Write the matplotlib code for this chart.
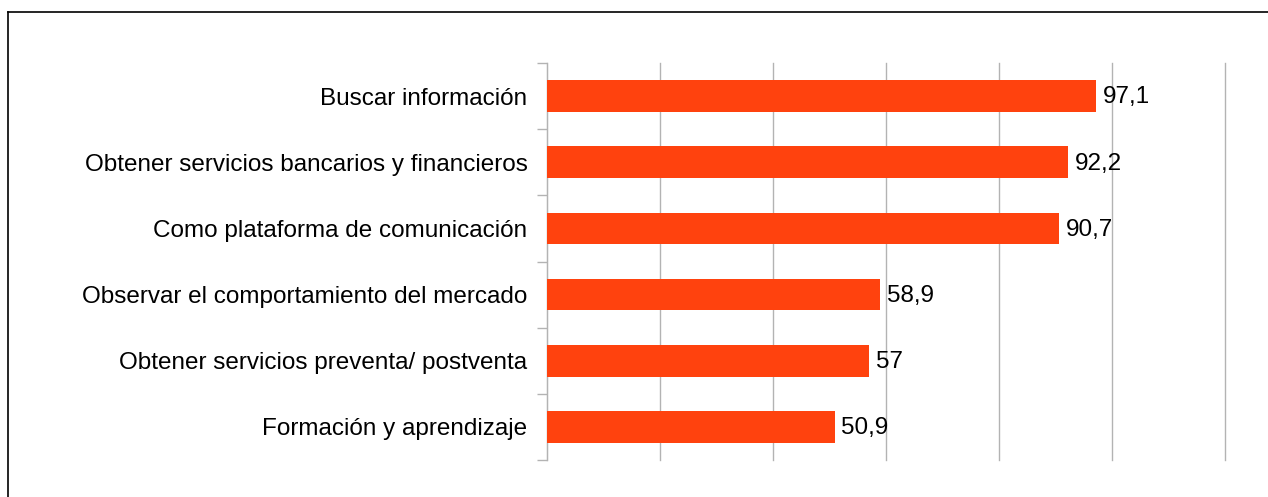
import matplotlib.pyplot as plt
import numpy as np
from matplotlib.lines import Line2D

# data
categories = ["Buscar información",
              "Obtener servicios bancarios y financieros",
              "Como plataforma de comunicación",
              "Observar el comportamiento del mercado",
              "Obtener servicios preventa/ postventa",
              "Formación y aprendizaje"]
values = [97.1, 92.2, 90.7, 58.9, 57, 50.9]

plt.rcParams['font.family'] = ['Liberation Sans', 'DejaVu Sans']

fig = plt.figure(figsize=(12.68, 4.97), dpi=100)
ax = fig.add_axes([547/1268, 1-460/497, (1225-547)/1268, (460-63)/497])

y = np.arange(len(categories))
ax.barh(y, values, height=0.48, color='#ff420e', zorder=3)

# value labels
for yi, v in zip(y, values):
    txt = ('%g' % v).replace('.', ',')
    ax.text(v + 1.2, yi + 0.02, txt, va='center', ha='left', fontsize=17.5, color='black')

ax.set_xlim(0, 120)
ax.set_ylim(len(categories) - 0.5, -0.5)
ax.set_xticks(np.arange(0, 121, 20))
ax.tick_params(axis='x', length=0, labelbottom=False)
ax.grid(axis='x', color='#b3b3b3', linewidth=1, zorder=0)
for gl in ax.xaxis.get_gridlines():
    gl.set_clip_on(False)

ax.set_yticks(y)
ax.set_yticklabels(categories, fontsize=17.5)
ax.set_yticks(np.arange(-0.5, len(categories)), minor=True)
ax.tick_params(axis='y', which='major', length=0, pad=14)
ax.tick_params(axis='y', which='minor', length=7, color='#b3b3b3', width=1)

for s in ['top', 'right', 'bottom']:
    ax.spines[s].set_visible(False)
ax.spines['left'].set_color('#b3b3b3')

# outer frame
x0 = 8/1268
y0 = 1-12/497
fig.add_artist(Line2D([x0, x0], [0, y0], color='black', linewidth=1.2, transform=fig.transFigure))
fig.add_artist(Line2D([x0, 1], [y0, y0], color='black', linewidth=1.2, transform=fig.transFigure))

fig.savefig('out.png', dpi=100)
